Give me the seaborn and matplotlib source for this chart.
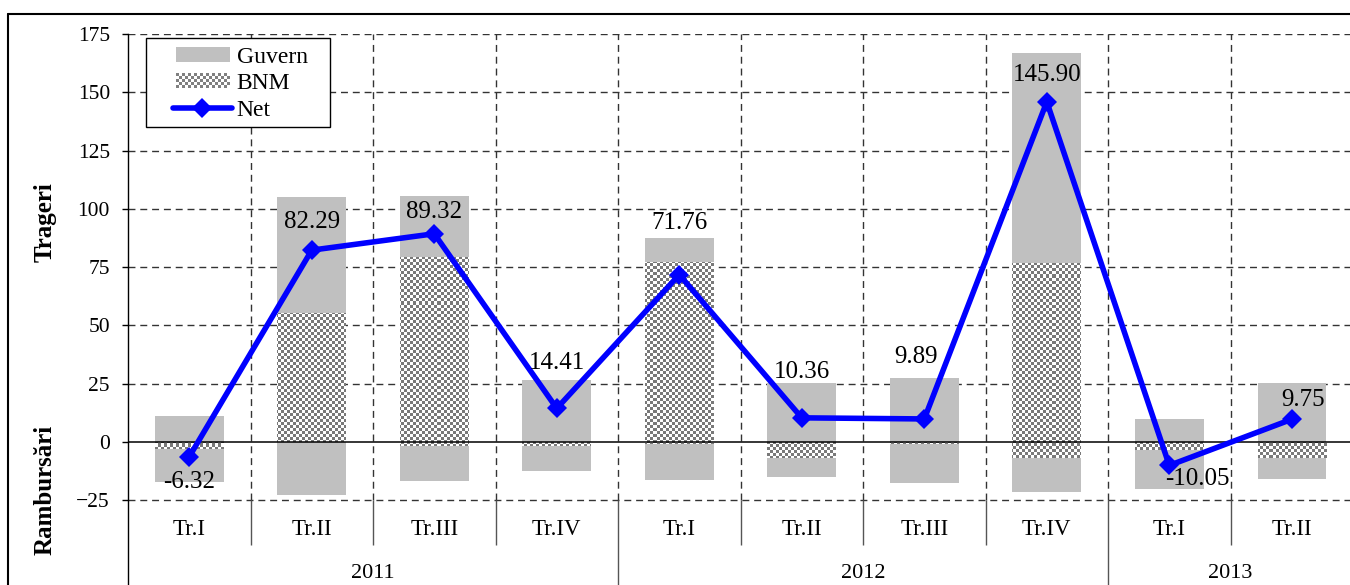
import numpy as np
import seaborn as sns
import matplotlib.pyplot as plt
from matplotlib.patches import Patch, Rectangle
from matplotlib.lines import Line2D
from matplotlib.legend_handler import HandlerBase

# data (mil. USD)
quarters = ['Tr.I', 'Tr.II', 'Tr.III', 'Tr.IV', 'Tr.I', 'Tr.II', 'Tr.III', 'Tr.IV', 'Tr.I', 'Tr.II']
years = ['2011', '2012', '2013']
year_span = [(0, 3), (4, 7), (8, 9)]
guv_pos = [11.1, 49.9, 26.1, 26.5, 10.3, 25.3, 27.3, 90.4, 9.9, 25.3]
bnm_pos = [0, 55.3, 79.5, 0, 77.1, 0, 0, 76.6, 0, 0]
bnm_neg = [-3.0, 0, -1.7, -1.7, -1.0, -6.7, -1.0, -7.0, -3.4, -7.0]
guv_neg = [-14.1, -22.7, -14.9, -10.6, -15.3, -8.3, -16.4, -14.3, -16.9, -8.7]
net = [-6.32, 82.29, 89.32, 14.41, 71.76, 10.36, 9.89, 145.90, -10.05, 9.75]

# label offsets in pixels (placement only)
lab_off = [(0, -25), (0, 28), (0, 22), (0, 45), (0, 52), (0, 46), (-8, 62), (0, 27), (28, -14), (11, 19)]

sns.set_style('white')
plt.rcParams['font.family'] = ['Liberation Serif', 'DejaVu Serif']
plt.rcParams['text.color'] = 'black'
plt.rcParams['ytick.color'] = 'black'
plt.rcParams['ytick.labelcolor'] = 'black'

GRAY = '#c0c0c0'
BLUE = '#0000ff'
pos = np.arange(len(quarters))
YMIN, YMAX = -61.34, 175
XMIN, XMAX = -0.5, 9.475

fig = plt.figure(figsize=(13.5, 5.85), dpi=100)
ax = fig.add_axes([128 / 1350, 0, 1222 / 1350, 551 / 585])

# checker image used to fill BNM bars
nx, ny = 1222 // 3, 551 // 3
checker = (np.add.outer(np.arange(ny), np.arange(nx)) % 2).astype(float)


def bars(vals, bottom, checked):
    sns.barplot(x=pos, y=vals, bottom=bottom, native_scale=True, orient='x',
                color=GRAY, saturation=1, width=0.56, linewidth=0,
                errorbar=None, ax=ax, zorder=2)
    cont = ax.containers[-1]
    if checked:
        for p in cont.patches:
            p.set_facecolor('white')
            im = ax.imshow(checker, extent=[XMIN, XMAX, YMIN, YMAX], cmap='gray',
                           vmin=-0.9, vmax=1.0, aspect='auto',
                           interpolation='nearest', zorder=2.1)
            im.set_clip_path(p)


bars(bnm_pos, 0, True)
bars(guv_pos, bnm_pos, False)
bars(bnm_neg, 0, True)
bars(guv_neg, bnm_neg, False)

sns.lineplot(x=pos, y=net, color=BLUE, lw=4, marker='D', markersize=10,
             markeredgewidth=0, ax=ax, zorder=5)

for i, v in enumerate(net):
    ax.annotate(f'{v:.2f}', (i, v), xytext=lab_off[i], textcoords='offset pixels',
                ha='center', va='center', fontsize=18, zorder=6)

# grid
dash = (0, (5, 3.5))
for y in [-25, 25, 50, 75, 100, 125, 150, 175]:
    ax.plot([XMIN, XMAX], [y, y], ls=dash, color='#333333', lw=1, zorder=0.5)
ax.vlines(np.arange(0.5, 9.5, 1), -25, 175, ls=dash, color='#333333', lw=1, zorder=0.5)
ax.axhline(0, color='black', lw=1.1, zorder=3)

# category axis below -25
for b in [0.5, 1.5, 2.5, 4.5, 5.5, 6.5, 8.5]:
    ax.vlines(b, -44.1, -25, color='#555555', lw=1)
for b in [3.5, 7.5]:
    ax.vlines(b, YMIN, -25, color='#555555', lw=1)
for i, q in enumerate(quarters):
    ax.text(i, -37.6, q, ha='center', va='center', fontsize=16.5)
for (a, b), yr in zip(year_span, years):
    ax.text((a + b) / 2, -56.6, yr, ha='center', va='center', fontsize=16)

ax.set_xlim(XMIN, XMAX)
ax.set_ylim(YMIN, YMAX)
ax.set_xticks([])
ax.set_yticks(range(-25, 176, 25))
ax.tick_params(axis='y', direction='out', length=4, width=1, pad=9, labelsize=15.5, left=True)
ax.set_xlabel('')
ax.set_ylabel('')
for s in ['top', 'right', 'bottom']:
    ax.spines[s].set_visible(False)
ax.spines['left'].set_color('black')
ax.spines['left'].set_linewidth(1)

fig.text(45 / 1350, 1 - 222 / 585, 'Trageri', rotation=90, ha='center', va='center',
         fontsize=18, fontweight='bold')
fig.text(45 / 1350, 1 - 490 / 585, 'Rambursări', rotation=90, ha='center', va='center',
         fontsize=18, fontweight='bold')


# legend: handles drawn in the right part of the handle box
class Handle(HandlerBase):
    def __init__(self, kind):
        super().__init__()
        self.kind = kind

    def create_artists(self, legend, orig_handle, xdescent, ydescent, width, height, fontsize, trans):
        x0, cy = -xdescent, -ydescent + height / 2
        px, pw, ph = x0 + 16.6, 38.9, 10.8
        if self.kind == 'guv':
            return [Rectangle((px, cy - ph / 2), pw, ph, facecolor=GRAY, edgecolor='none',
                              transform=trans)]
        if self.kind == 'bnm':
            c = 2.16
            arts = [Rectangle((px, cy - ph / 2), pw, ph, facecolor='white', edgecolor='none',
                              transform=trans)]
            for i in range(int(pw / c)):
                for j in range(int(ph / c)):
                    if (i + j) % 2 == 0:
                        arts.append(Rectangle((px + i * c, cy - ph / 2 + j * c), c, c,
                                              facecolor='#808080', edgecolor='none',
                                              transform=trans))
            return arts
        line = Line2D([x0 + 14.4, x0 + 56.9], [cy, cy], color=BLUE, lw=4, transform=trans)
        mark = Line2D([x0 + 35.6], [cy], color=BLUE, marker='D', markersize=10,
                      markeredgewidth=0, transform=trans)
        return [line, mark]


h_guv = Patch(facecolor=GRAY)
h_bnm = Patch(facecolor='white')
h_net = Line2D([], [], color=BLUE)
fig.add_artist(Rectangle((146 / 1350, 1 - 127 / 585), 184 / 1350, 89 / 585,
                         transform=fig.transFigure, facecolor='white', edgecolor='black',
                         lw=1, zorder=4))
leg = fig.legend([h_guv, h_bnm, h_net], ['Guvern', 'BNM', 'Net'],
                 handler_map={h_guv: Handle('guv'), h_bnm: Handle('bnm'), h_net: Handle('net')},
                 loc='upper left', bbox_to_anchor=(153 / 1350, 1 - 46 / 585),
                 fontsize=17, frameon=False, borderaxespad=0, borderpad=0,
                 handlelength=3.3, handleheight=0.7, labelspacing=0.22, handletextpad=0.25)
leg.set_zorder(5)

# outer frame
fig.add_artist(Line2D([8 / 1350, 1], [1 - 14 / 585, 1 - 14 / 585], color='black', lw=1.5,
                      transform=fig.transFigure))
fig.add_artist(Line2D([8 / 1350, 8 / 1350], [0, 1 - 14 / 585], color='black', lw=1.5,
                      transform=fig.transFigure))

fig.savefig('out.png', dpi=100)
